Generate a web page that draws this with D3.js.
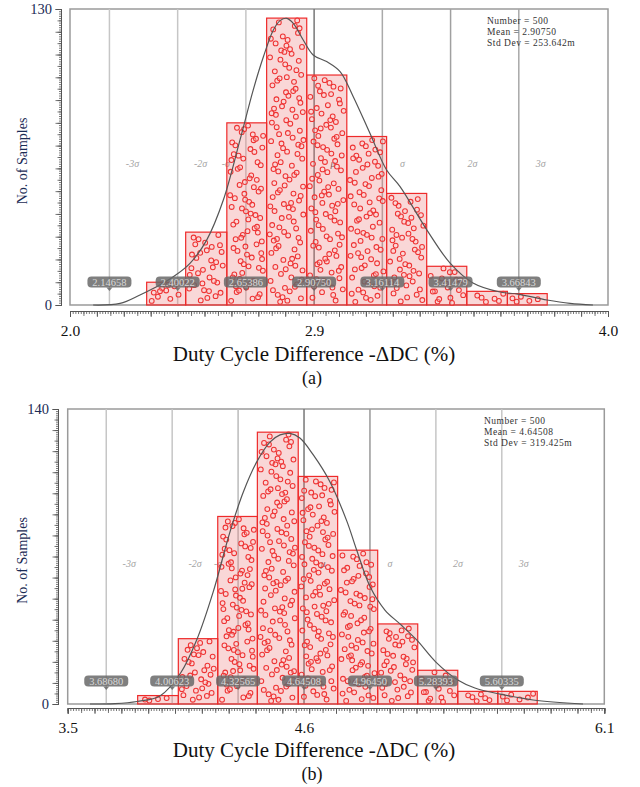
<!DOCTYPE html>
<html>
<head>
<meta charset="utf-8">
<script src="https://cdn.jsdelivr.net/npm/d3@7"></script>
<style>
  body { margin: 0; background: #fff; }
  svg text { font-family: "Liberation Serif", "Times New Roman", serif; }
</style>
</head>
<body>
<div id="chart"></div>
<script>
// ---- panel (a) data ----
const edgesA  = [2.285, 2.430, 2.583, 2.731, 2.880, 3.029, 3.177, 3.326, 3.475, 3.626, 3.774];
const countsA = [10, 32, 80, 126, 101, 74, 49, 17, 6, 5];
const sigmaA  = [2.14658, 2.40022, 2.65386, 2.90750, 3.16114, 3.41479, 3.66843];
const sigmaTextA = ['2.14658', '2.40022', '2.65386', '2.90750', '3.16114', '3.41479', '3.66843'];
const curveXA = [2.086, 2.186, 2.260, 2.322, 2.384, 2.446, 2.508, 2.570, 2.632, 2.681, 2.719, 2.756, 2.781, 2.806, 2.830, 2.867, 2.904, 2.954, 3.004, 3.053, 3.115, 3.177, 3.227, 3.327, 3.413, 3.498, 3.599, 3.665, 3.773, 3.859, 3.944];
const curveYA = [0, 0.7, 4.4, 8.0, 12.4, 18.3, 28.5, 46.1, 72.5, 94.4, 109.0, 120.8, 124.9, 125.9, 123.7, 116.4, 109.8, 106.9, 102.5, 91.5, 75.4, 59.3, 52.0, 32.9, 18.4, 9.7, 5.7, 4.8, 2.2, 0.7, 0];
const xTickValA = [2.0, 2.9075, 4.0];
const xTickTextA = ['2.0', '2.9', '4.0'];
const statsA = ['Number = 500', 'Mean = 2.90750', 'Std Dev = 253.642m'];

// ---- panel (b) data ----
const edgesB  = [3.839, 4.036, 4.227, 4.419, 4.617, 4.808, 5.002, 5.196, 5.390, 5.584, 5.775];
const countsB = [4, 31, 89, 129, 108, 73, 38, 16, 6, 6];
const sigmaB  = [3.68680, 4.00623, 4.32565, 4.64508, 4.96450, 5.28393, 5.60335];
const sigmaTextB = ['3.68680', '4.00623', '4.32565', '4.64508', '4.96450', '5.28393', '5.60335'];
const curveXB = [3.608, 3.729, 3.836, 3.947, 4.047, 4.125, 4.205, 4.286, 4.351, 4.416, 4.480, 4.529, 4.577, 4.625, 4.690, 4.771, 4.852, 4.900, 4.966, 5.037, 5.110, 5.191, 5.284, 5.390, 5.473, 5.595, 5.755, 5.997];
const curveYB = [0, 0.2, 1.2, 3.8, 14.7, 30.4, 53.2, 81.6, 100.6, 114.9, 124.3, 127.7, 128.4, 126.2, 118.2, 105.4, 86.9, 73.1, 55.5, 44.6, 38.0, 30.4, 19.9, 11.4, 7.6, 4.7, 1.9, 0];
const xTickValB = [3.5, 4.64508, 6.1];
const xTickTextB = ['3.5', '4.6', '6.1'];
const statsB = ['Number = 500', 'Mean = 4.64508', 'Std Dev = 319.425m'];

const sigmaNames = ['-3\u03c3', '-2\u03c3', '-\u03c3', '\u03bc', '\u03c3', '2\u03c3', '3\u03c3'];

const svg = d3.select('#chart').append('svg')
  .attr('width', 640).attr('height', 787);

const panels = [
  { edges: edgesA, counts: countsA, sigma: sigmaA, sigmaText: sigmaTextA, cx: curveXA, cy: curveYA,
    xTickVal: xTickValA, xTickText: xTickTextA, stats: statsA, xDomain: [2.0, 4.0], yMax: 130,
    left: 70, right: 608, top: 9, bottom: 305, yAxisX: 61, xAxisY: 311,
    lineColors: ['#c6c6c6', '#c6c6c6', '#c6c6c6', '#777', '#aaa', '#a0a0a0', '#a8a8a8'],
    caption: '(a)', titleY: 361, capY: 384, statsX: 487, statsY: 24 },
  { edges: edgesB, counts: countsB, sigma: sigmaB, sigmaText: sigmaTextB, cx: curveXB, cy: curveYB,
    xTickVal: xTickValB, xTickText: xTickTextB, stats: statsB, xDomain: [3.5, 6.1], yMax: 140,
    left: 67.7, right: 604.3, top: 409, bottom: 704, yAxisX: 58, xAxisY: 708,
    lineColors: ['#c6c6c6', '#c6c6c6', '#bbb', '#777', '#999', '#c6c6c6', '#c6c6c6'],
    caption: '(b)', titleY: 757, capY: 780, statsX: 484, statsY: 424 }
];

function halton(i, b) {
  let f = 1, r = 0;
  while (i > 0) { f /= b; r += f * (i % b); i = Math.floor(i / b); }
  return r;
}

function drawPanel(p) {
  const x = d3.scaleLinear().domain(p.xDomain).range([p.left, p.right]);
  const y = d3.scaleLinear().domain([0, p.yMax]).range([p.bottom, p.top]);
  const g = svg.append('g');

  // frame
  g.append('rect')
    .attr('x', p.left).attr('y', p.top)
    .attr('width', p.right - p.left).attr('height', p.bottom - p.top)
    .attr('fill', '#fff').attr('stroke', '#9a9a9a').attr('stroke-width', 1.5);

  // sigma names (drawn under the bars)
  const offs = [23, 23, -20, 19, 20, 22, 22];
  const midY = (p.top + p.bottom) / 2 + 10;
  g.selectAll('text.sig').data(p.sigma).join('text')
    .attr('class', 'sig')
    .attr('x', (d, i) => x(d) + offs[i])
    .attr('y', midY)
    .attr('text-anchor', 'middle')
    .attr('font-size', 10).attr('font-style', 'italic')
    .attr('fill', (d, i) => i === 3 ? '#555' : '#a4a4a4')
    .text((d, i) => sigmaNames[i]);

  // sigma lines
  g.selectAll('line.sl').data(p.sigma).join('line')
    .attr('x1', d => x(d)).attr('x2', d => x(d))
    .attr('y1', p.top).attr('y2', p.bottom)
    .attr('stroke', (d, i) => p.lineColors[i]).attr('stroke-width', 1.5);

  // histogram bars
  const bars = p.counts.map((c, i) => ({ x0: p.edges[i], x1: p.edges[i + 1], n: c }));
  g.selectAll('rect.bar').data(bars).join('rect')
    .attr('class', 'bar')
    .attr('x', d => x(d.x0)).attr('width', d => x(d.x1) - x(d.x0))
    .attr('y', d => y(d.n)).attr('height', d => p.bottom - y(d.n))
    .attr('fill', 'rgba(232, 110, 110, 0.28)')
    .attr('stroke', '#ee2a2a').attr('stroke-width', 1.2);

  // sample dots inside each bar (quasi-random jitter)
  const dots = [];
  let k = 1;
  bars.forEach(b => {
    for (let j = 0; j < b.n; j++, k++) {
      const u = halton(k, 2), v = halton(k, 3);
      const x0 = x(b.x0) + 3, x1 = x(b.x1) - 3;
      const yt = y(b.n) + 2, yb = p.bottom - 2;
      dots.push({ px: x0 + u * (x1 - x0), py: yt + v * (yb - yt) });
    }
  });
  g.selectAll('circle').data(dots).join('circle')
    .attr('cx', d => d.px).attr('cy', d => d.py).attr('r', 2.4)
    .attr('fill', 'rgba(255,215,215,0.35)')
    .attr('stroke', '#ee3333').attr('stroke-width', 1.05);

  // density curve
  const line = d3.line().curve(d3.curveCatmullRom.alpha(0.5))
    .x((d, i) => x(p.cx[i])).y(d => y(d));
  g.append('path').datum(p.cy)
    .attr('d', line)
    .attr('fill', 'none').attr('stroke', '#555').attr('stroke-width', 1.2);

  // value boxes on sigma lines
  const boxY = p.bottom - 23;
  const box = g.selectAll('g.box').data(p.sigma).join('g')
    .attr('transform', d => `translate(${x(d)},${boxY})`);
  box.append('rect')
    .attr('x', -22).attr('y', -5.5).attr('width', 44).attr('height', 11).attr('rx', 4)
    .attr('fill', 'rgba(105,105,105,0.85)');
  box.append('path').attr('d', 'M-3,5.5L0,9L3,5.5Z').attr('fill', 'rgba(105,105,105,0.85)');
  box.append('text')
    .attr('text-anchor', 'middle').attr('y', 3.7)
    .attr('font-size', 10.5).attr('fill', '#d8d8d8')
    .text((d, i) => p.sigmaText[i]);

  // stats
  g.selectAll('text.st').data(p.stats).join('text')
    .attr('x', p.statsX).attr('y', (d, i) => p.statsY + i * 11)
    .attr('font-size', 9.5).attr('fill', '#333').attr('letter-spacing', 0.5)
    .text(d => d);

  // y axis: minor ticks
  const yAx = (step, size) => d3.axisLeft(y).tickValues(d3.range(0, p.yMax + 0.01, step))
    .tickSize(size).tickFormat('');
  [[1, 2], [5, 3.5], [10, 5.5]].forEach(([s, sz]) => {
    const a = g.append('g').attr('transform', `translate(${p.yAxisX},0)`).call(yAx(s, sz));
    a.select('.domain').attr('stroke', '#555');
    a.selectAll('.tick line').attr('stroke', '#555').attr('stroke-width', 0.8);
  });
  const yl = g.append('g').attr('transform', `translate(${p.yAxisX},0)`)
    .call(d3.axisLeft(y).tickValues([0, p.yMax]).tickSize(5).tickPadding(4));
  yl.select('.domain').remove();
  yl.selectAll('.tick line').attr('stroke', '#555');
  yl.selectAll('text').attr('font-size', 14.5).attr('fill', '#1b2b55')
    .attr('font-family', '"Liberation Serif", serif');

  // x axis ticks
  const span = p.xDomain[1] - p.xDomain[0];
  const step = span / 200;
  const xAx = (every, size) => d3.axisBottom(x)
    .tickValues(d3.range(0, 201, every).map(i => p.xDomain[0] + i * step))
    .tickSize(size).tickFormat('');
  [[1, 3], [5, 5], [10, 6]].forEach(([e, sz]) => {
    const a = g.append('g').attr('transform', `translate(0,${p.xAxisY})`).call(xAx(e, sz));
    a.select('.domain').attr('stroke', '#555');
    a.selectAll('.tick line').attr('stroke', '#555').attr('stroke-width', 0.8);
  });
  const xl = g.append('g').attr('transform', `translate(0,${p.xAxisY})`)
    .call(d3.axisBottom(x).tickValues(p.xTickVal).tickSize(0).tickPadding(14)
      .tickFormat((d, i) => p.xTickText[i]));
  xl.select('.domain').remove();
  xl.selectAll('text').attr('font-size', 15.5).attr('fill', '#111')
    .attr('font-family', '"Liberation Serif", serif');

  // y title
  g.append('text')
    .attr('transform', `translate(27,${(p.top + p.bottom) / 2 + 4}) rotate(-90)`)
    .attr('text-anchor', 'middle').attr('font-size', 14).attr('fill', '#1b2b55')
    .text('No. of Samples');

  // x title and caption
  g.append('text').attr('x', 314).attr('y', p.titleY)
    .attr('text-anchor', 'middle').attr('font-size', 21).attr('fill', '#111')
    .text('Duty Cycle Difference -\u0394DC (%)');
  g.append('text').attr('x', 312).attr('y', p.capY)
    .attr('text-anchor', 'middle').attr('font-size', 18).attr('fill', '#111')
    .text(p.caption);
}

panels.forEach(drawPanel);
</script>
</body>
</html>
